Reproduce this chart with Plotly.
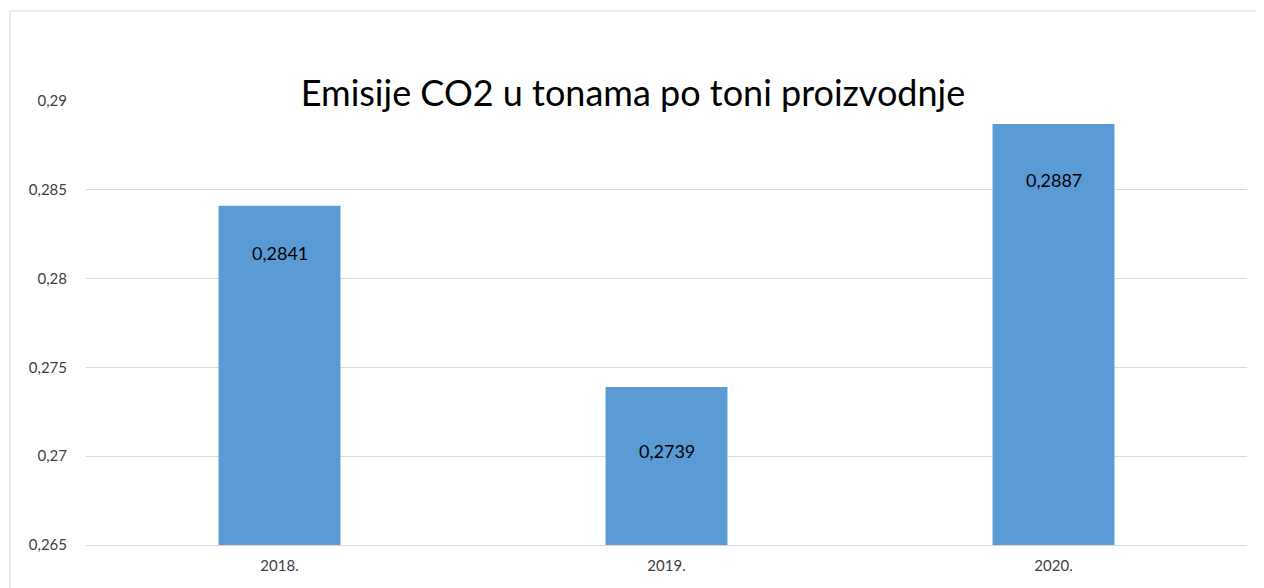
import plotly.graph_objects as go

categories = ["2018.", "2019.", "2020."]
values = [0.2841, 0.2739, 0.2887]
tick_vals = [0.265, 0.27, 0.275, 0.28, 0.285, 0.29]
tick_text = ["0,265", "0,27", "0,275", "0,28", "0,285", "0,29"]
label_shift = [-47, -64, -56]

FONT = "Lato, Open Sans, sans-serif"
OFF = 8  # page body margin
W, H = 1264 - OFF, 588 - OFF
L, R, T, B = 86 - OFF, 17, 101 - OFF, 43
pw, ph = W - L - R, H - T - B

pos = list(range(len(categories)))

fig = go.Figure()
fig.add_trace(go.Bar(
    x=pos, y=values, width=[0.315] * len(pos), marker_color="#5b9bd5",
    marker_line_width=0, hoverinfo="skip",
    text=[f"{v:.4f}".replace(".", ",") for v in values],
    textposition="none",
))
for p, v, s in zip(pos, values, label_shift):
    fig.add_annotation(x=p, y=v, yshift=s, xanchor="center", text=f"{v:.4f}".replace(".", ","),
                       showarrow=False, font=dict(family=FONT, size=18, color="#000000"))

fig.add_shape(type="rect", xref="paper", yref="paper",
              x0=(10 - OFF - L) / pw, x1=(1275 - OFF - L) / pw,
              y0=(H - B - 600) / ph, y1=(H - B - (11 - OFF)) / ph,
              line=dict(color="#d9d9d9", width=1), fillcolor="rgba(0,0,0,0)", layer="below")

fig.update_layout(
    width=W, height=H,
    margin=dict(l=L, r=R, t=T, b=B),
    paper_bgcolor="white", plot_bgcolor="white",
    showlegend=False,
    font=dict(family=FONT, color="#404040", size=15),
    title=dict(text="Emisije CO2 u tonama po toni proizvodnje", x=(633 - OFF) / W, xanchor="center",
               y=1 - (93 - OFF) / H, yanchor="middle",
               font=dict(family=FONT, size=36, color="#000000")),
)
fig.update_yaxes(range=[0.265, 0.29], tickvals=tick_vals, ticktext=tick_text,
                 showgrid=True, gridcolor="#d9d9d9", gridwidth=1, zeroline=False,
                 showline=False, ticks="", ticklabelstandoff=18,
                 tickfont=dict(family=FONT, size=15, color="#404040"))
fig.update_xaxes(type="linear", range=[-0.5, len(pos) - 0.5], tickvals=pos, ticktext=categories,
                 showgrid=False, zeroline=False,
                 showline=True, linecolor="#d9d9d9", linewidth=1, ticks="",
                 ticklabelstandoff=7,
                 tickfont=dict(family=FONT, size=15, color="#404040"))

fig.write_html("out.html")
